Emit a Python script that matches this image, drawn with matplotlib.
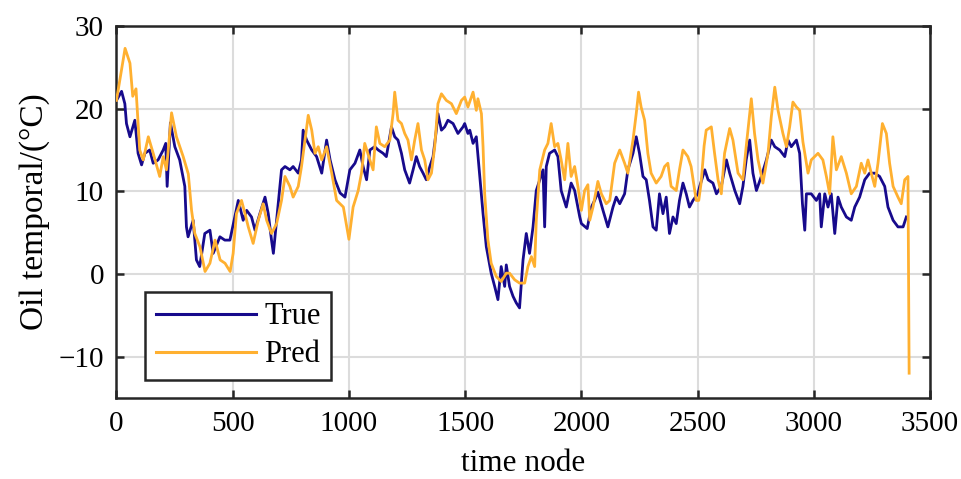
import matplotlib
matplotlib.use("Agg")
import matplotlib.pyplot as plt

true_x = [0, 22, 36, 43, 58, 79, 93, 108, 122, 143, 158, 179, 201, 212, 218, 232, 251, 272, 294, 301,
          308, 330, 344, 358, 380, 402, 416, 445, 466, 488, 509, 524, 531, 545, 560, 581, 596, 617, 639, 653,
          667, 675, 689, 710, 725, 746, 760, 782, 796, 803, 818, 840, 861, 883, 904, 919, 940, 962, 983, 1004,
          1026, 1047, 1061, 1076, 1090, 1111, 1126, 1147, 1161, 1183, 1197, 1211, 1226, 1240, 1261, 1276, 1290, 1304, 1319, 1333,
          1348, 1362, 1376, 1383, 1398, 1412, 1426, 1448, 1469, 1491, 1498, 1512, 1520, 1534, 1548, 1563, 1577, 1591, 1612, 1627,
          1641, 1655, 1670, 1677, 1691, 1706, 1720, 1734, 1749, 1763, 1777, 1792, 1806, 1821, 1835, 1842, 1849, 1863, 1885, 1899,
          1913, 1935, 1956, 1971, 1985, 1993, 2000, 2025, 2043, 2057, 2071, 2093, 2114, 2136, 2150, 2165, 2186, 2200, 2222, 2236,
          2250, 2265, 2279, 2293, 2308, 2322, 2336, 2351, 2365, 2379, 2394, 2408, 2422, 2437, 2451, 2465, 2480, 2501, 2509, 2531,
          2545, 2566, 2581, 2602, 2624, 2638, 2660, 2681, 2695, 2709, 2724, 2738, 2753, 2774, 2796, 2817, 2832, 2853, 2875, 2889,
          2903, 2925, 2939, 2951, 2961, 2968, 2989, 3011, 3025, 3032, 3047, 3061, 3075, 3090, 3104, 3118, 3140, 3161, 3176, 3197,
          3219, 3240, 3262, 3283, 3305, 3319, 3341, 3362, 3384, 3398]
true_y = [21.0, 22.1, 20.6, 18.2, 16.6, 18.6, 14.6, 13.2, 14.6, 15.0, 13.4, 13.8, 15.0, 15.8, 10.6, 18.3, 15.4, 13.8, 10.6, 5.7,
          4.5, 6.5, 1.7, 0.9, 4.9, 5.3, 2.5, 4.5, 4.1, 4.1, 6.9, 8.9, 8.1, 6.5, 7.7, 6.9, 5.3, 7.3, 9.3, 7.3,
          4.1, 2.5, 6.5, 12.6, 13.0, 12.6, 13.0, 12.2, 13.8, 17.4, 16.2, 15.0, 14.2, 12.2, 16.2, 13.8, 11.4, 9.8, 9.3, 12.6,
          13.4, 15.0, 13.0, 11.4, 15.0, 15.4, 15.0, 14.6, 14.2, 17.8, 16.6, 16.2, 14.6, 12.6, 11.0, 12.6, 14.2, 13.0, 12.2, 11.4,
          13.0, 14.2, 17.4, 19.4, 17.4, 17.8, 18.6, 18.2, 17.0, 17.8, 18.2, 17.0, 17.4, 15.8, 16.6, 11.8, 7.3, 3.3, 0.1, -1.5,
          -3.1, 0.9, -1.5, 1.1, -1.5, -2.7, -3.5, -4.1, 1.7, 4.9, 2.5, 5.7, 10.1, 11.4, 12.6, 5.7, 13.0, 14.6, 15.0, 14.2,
          10.1, 8.1, 11.0, 10.1, 8.1, 6.9, 6.1, 5.5, 8.1, 8.9, 9.9, 7.7, 5.7, 8.1, 9.3, 8.5, 9.7, 12.6, 14.6, 16.6,
          14.6, 11.8, 11.4, 8.9, 5.7, 5.3, 9.7, 7.3, 9.3, 4.9, 6.9, 6.1, 8.9, 11.0, 9.7, 8.1, 8.9, 9.7, 10.6, 12.6,
          11.4, 11.0, 9.7, 10.6, 13.8, 12.2, 10.1, 8.5, 10.6, 13.8, 16.2, 12.2, 10.1, 11.8, 13.8, 16.2, 15.4, 15.0, 14.2, 16.2,
          15.4, 16.2, 14.6, 8.5, 5.3, 9.7, 9.7, 8.9, 9.7, 5.7, 9.7, 8.1, 9.7, 4.9, 9.3, 8.1, 6.9, 6.5, 8.1, 9.3,
          11.4, 12.2, 12.2, 11.8, 10.6, 8.1, 6.5, 5.7, 5.7, 6.9]

pred_x = [0, 37, 58, 70, 84, 100, 115, 137, 158, 186, 201, 215, 237, 258, 287, 309, 323, 337, 359, 381,
          402, 424, 446, 467, 489, 502, 516, 538, 553, 567, 588, 610, 631, 646, 667, 689, 710, 725, 746, 760,
          782, 796, 811, 825, 840, 854, 868, 883, 904, 926, 947, 976, 1000, 1018, 1040, 1054, 1068, 1090, 1104, 1118,
          1133, 1154, 1176, 1190, 1197, 1211, 1226, 1240, 1254, 1269, 1283, 1297, 1312, 1326, 1340, 1355, 1369, 1383, 1398, 1419,
          1441, 1462, 1484, 1498, 1512, 1534, 1548, 1555, 1570, 1577, 1584, 1598, 1612, 1634, 1655, 1677, 1691, 1713, 1734, 1756,
          1770, 1785, 1799, 1806, 1821, 1842, 1856, 1870, 1885, 1899, 1913, 1928, 1942, 1956, 1971, 1985, 2000, 2014, 2028, 2036,
          2050, 2071, 2086, 2107, 2122, 2143, 2165, 2186, 2200, 2222, 2236, 2246, 2257, 2272, 2286, 2300, 2322, 2343, 2358, 2372,
          2386, 2408, 2422, 2437, 2458, 2472, 2494, 2505, 2515, 2528, 2537, 2559, 2573, 2588, 2602, 2616, 2638, 2652, 2674, 2695,
          2709, 2731, 2745, 2760, 2781, 2803, 2817, 2832, 2846, 2867, 2882, 2896, 2910, 2925, 2939, 2953, 2968, 2975, 2989, 3018,
          3039, 3054, 3068, 3082, 3097, 3118, 3140, 3161, 3183, 3204, 3219, 3233, 3247, 3262, 3276, 3295, 3312, 3326, 3341, 3362,
          3376, 3391, 3405, 3410]
pred_y = [21.0, 27.3, 25.5, 21.5, 22.4, 15.0, 13.8, 16.6, 14.6, 11.8, 14.2, 12.6, 19.5, 16.6, 14.2, 12.1, 7.7, 4.9, 3.3, 0.3,
          1.3, 4.1, 1.7, 1.3, 0.3, 2.5, 7.3, 8.9, 7.3, 5.7, 3.7, 6.5, 8.5, 6.5, 4.9, 6.1, 8.9, 11.8, 10.6, 9.3,
          10.6, 13.0, 16.2, 19.2, 17.4, 14.6, 15.4, 13.8, 15.4, 12.2, 8.9, 8.1, 4.2, 8.1, 10.1, 12.2, 15.8, 13.8, 12.6, 17.8,
          15.8, 15.4, 16.2, 19.4, 22.0, 18.6, 18.2, 17.0, 16.2, 13.8, 16.2, 18.2, 15.0, 13.8, 11.4, 12.2, 15.4, 20.6, 21.8, 21.0,
          20.6, 19.4, 21.0, 21.4, 20.2, 22.0, 19.8, 21.2, 19.4, 15.4, 9.7, 4.1, 1.3, -0.3, -0.9, 0.1, 0.1, -0.7, -1.1, -1.1,
          0.9, 2.1, 0.9, 6.5, 12.6, 15.0, 15.8, 18.2, 15.4, 15.8, 13.8, 11.4, 15.8, 11.8, 13.0, 10.6, 7.7, 10.1, 10.8, 6.5,
          8.1, 11.2, 9.7, 8.5, 8.9, 13.4, 15.0, 13.4, 12.2, 16.2, 19.4, 22.0, 20.2, 18.6, 14.6, 12.2, 11.0, 11.8, 13.0, 13.4,
          10.6, 10.1, 12.6, 15.0, 14.2, 13.0, 8.9, 8.9, 11.0, 15.5, 17.4, 17.8, 14.6, 11.4, 9.7, 14.6, 17.6, 16.2, 12.2, 11.4,
          15.4, 21.2, 17.0, 13.8, 11.0, 14.6, 19.0, 22.6, 19.8, 17.0, 15.4, 17.8, 20.8, 20.2, 19.8, 16.0, 13.4, 12.2, 13.8, 14.6,
          13.8, 11.8, 9.7, 16.6, 12.6, 14.2, 12.2, 9.7, 10.6, 13.4, 12.2, 13.8, 12.2, 10.6, 13.4, 18.2, 17.0, 13.4, 10.6, 9.3,
          8.5, 11.4, 11.8, -12.0]

x_ticks = [0, 500, 1000, 1500, 2000, 2500, 3000, 3500]
y_ticks = [-10, 0, 10, 20, 30]

plt.rcParams['font.family'] = ['Liberation Serif', 'DejaVu Serif']
plt.rcParams['axes.unicode_minus'] = True

fig = plt.figure(figsize=(9.61, 4.79), dpi=100)
ax = fig.add_axes([0.1212, 0.1691, 0.8466, 0.7766])

ax.plot(true_x, true_y, color='#170a8c', lw=2.0, label='True', zorder=3)
ax.plot(pred_x, pred_y, color='#ffb030', lw=2.0, label='Pred', zorder=4)

ax.set_xlim(0, 3500)
ax.set_ylim(-15, 30)
ax.set_xticks(x_ticks)
ax.set_yticks(y_ticks)
ax.grid(True, color='#dcdcdc', lw=1.5, zorder=0)
ax.set_axisbelow(True)
for s in ax.spines.values():
    s.set_linewidth(1.8)
    s.set_color('#262626')
ax.tick_params(direction='in', length=6, width=1.8, color='#262626', top=True, right=True,
               labelsize=21, pad=9)
ax.set_xlabel('time node', fontsize=22.5, labelpad=9)
ax.set_ylabel('Oil temporal/(°C)', fontsize=24, labelpad=6)

leg = ax.legend(loc='lower left', bbox_to_anchor=(0.035, 0.048), borderaxespad=0,
                fontsize=22, fancybox=False, framealpha=1, edgecolor='#262626',
                handlelength=3.3, handletextpad=0.25, labelspacing=0.3, borderpad=0.35)
leg.get_frame().set_linewidth(1.8)
for line in leg.get_lines():
    line.set_linewidth(2.2)

fig.savefig('out.png', dpi=100)
